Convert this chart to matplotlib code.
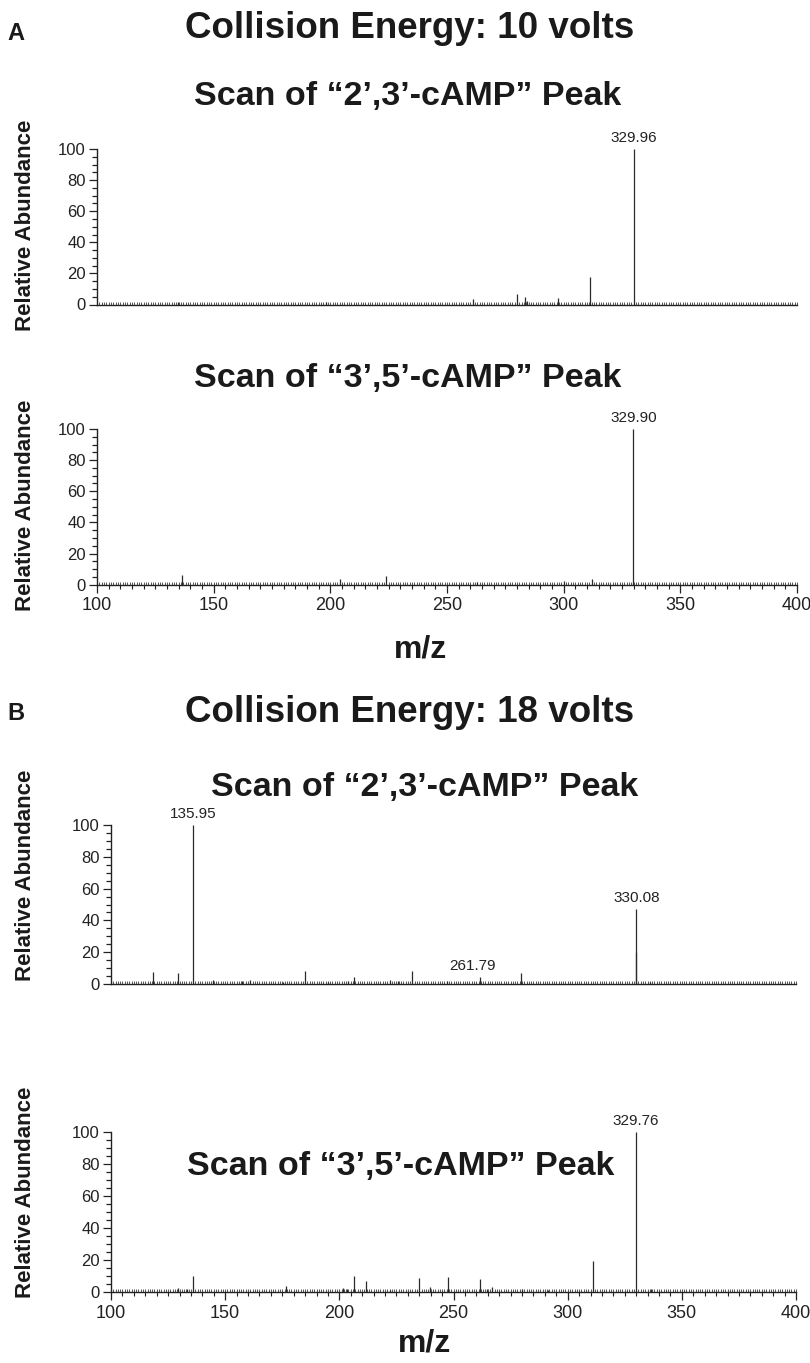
import matplotlib
matplotlib.use("Agg")
import matplotlib.pyplot as plt
from matplotlib import font_manager
from matplotlib.ticker import MultipleLocator, NullLocator, NullFormatter

# pick fonts that are installed
names = set(f.name for f in font_manager.fontManager.ttflist)
narrow = "Liberation Sans Narrow" if "Liberation Sans Narrow" in names else "Liberation Sans"
plt.rcParams['font.family'] = ['Liberation Sans', 'DejaVu Sans']

# spectra: m/z positions and relative abundance (%)
a1_mz = [134.7, 198.0, 261.3, 280.0, 283.3, 284.4, 297.7, 311.4, 329.96]
a1_ab = [1.5, 1.5, 3.7, 7.0, 4.7, 2.5, 4.3, 18.0, 100.0]

a2_mz = [136.3, 204.0, 223.8, 262.7, 300.3, 312.3, 329.90]
a2_ab = [6.2, 3.4, 5.4, 1.5, 2.3, 3.4, 100.0]

b1_mz = [118.5, 129.5, 135.95, 144.7, 157.2, 161.0, 175.2, 185.1, 194.9, 203.9,
         206.6, 222.2, 225.8, 231.7, 247.0, 261.79, 279.6, 329.8, 330.08, 336.0]
b1_ab = [7.4, 6.7, 100.0, 2.3, 2.0, 2.5, 1.0, 8.0, 1.5, 2.0,
         4.2, 2.5, 2.0, 8.0, 2.0, 4.2, 6.7, 20.0, 47.0, 1.5]

b2_mz = [129.5, 133.1, 135.7, 176.5, 201.8, 203.2, 206.3, 211.5, 222.2, 235.1,
         239.8, 247.7, 261.6, 264.5, 267.0, 279.9, 291.5, 311.3, 329.76, 336.5]
b2_ab = [2.3, 2.0, 10.3, 3.8, 2.5, 2.0, 10.3, 6.8, 1.5, 8.7,
         3.0, 9.2, 8.3, 2.0, 3.0, 2.0, 1.5, 19.2, 100.0, 2.0]

# labelled peaks: (m/z, abundance, text, x offset in points)
a1_labels = [(329.96, 100.0, "329.96", 0)]
a2_labels = [(329.90, 100.0, "329.90", 0)]
b1_labels = [(135.95, 100.0, "135.95", 0), (330.08, 47.0, "330.08", 0), (261.79, 4.2, "261.79", -6)]
b2_labels = [(329.76, 100.0, "329.76", 0)]

W, H = 810, 1363
fig = plt.figure(figsize=(W / 100, H / 100), dpi=100)


def px_axes(left, top, right, bottom):
    return fig.add_axes([left / W, 1 - bottom / H, (right - left) / W, (bottom - top) / H])


def spectrum(ax, mz, ab, labels, xticks):
    ax.vlines(mz, 0, ab, color='#2a2a2a', linewidth=0.9)
    ax.set_xlim(100, 400)
    ax.set_ylim(0, 100)
    for s in ['top', 'right']:
        ax.spines[s].set_visible(False)
    for s in ['left', 'bottom']:
        ax.spines[s].set_linewidth(1.0)
        ax.spines[s].set_color('#222222')
    ax.yaxis.set_major_locator(MultipleLocator(20))
    ax.yaxis.set_minor_locator(MultipleLocator(5))
    ax.tick_params(axis='y', which='major', length=6, width=0.9, labelsize=12, pad=2, colors='#222222')
    ax.tick_params(axis='y', which='minor', length=3.5, width=0.9, colors='#222222')
    for t in ax.get_yticklabels():
        t.set_family(narrow)
    if xticks:
        ax.xaxis.set_major_locator(MultipleLocator(50))
        ax.xaxis.set_minor_locator(MultipleLocator(5))
        ax.tick_params(axis='x', which='major', length=6, width=0.9, labelsize=13, pad=3, colors='#222222')
        ax.tick_params(axis='x', which='minor', length=3, width=0.8, colors='#222222')
    else:
        ax.xaxis.set_major_locator(NullLocator())
        ax.xaxis.set_minor_locator(NullLocator())
    # baseline noise hash
    sec = ax.secondary_xaxis(0)
    sec.spines['bottom'].set_visible(False)
    sec.xaxis.set_major_locator(NullLocator())
    sec.xaxis.set_minor_locator(MultipleLocator(1.0))
    sec.xaxis.set_minor_formatter(NullFormatter())
    sec.tick_params(axis='x', which='minor', direction='in', length=2.2, width=0.7, colors='#555555')
    for x, y, txt, dx in labels:
        ax.annotate(txt, (x, y), xytext=(dx, 3), textcoords='offset points',
                    ha='center', va='bottom', fontsize=11, family=narrow,
                    color='#222222', annotation_clip=False)


ax_a1 = px_axes(97, 149, 797, 304.5)
spectrum(ax_a1, a1_mz, a1_ab, a1_labels, False)
ax_a2 = px_axes(97, 429, 797, 584.7)
spectrum(ax_a2, a2_mz, a2_ab, a2_labels, True)
ax_b1 = px_axes(111, 825, 796, 984)
spectrum(ax_b1, b1_mz, b1_ab, b1_labels, False)
ax_b2 = px_axes(111, 1132, 796, 1292)
spectrum(ax_b2, b2_mz, b2_ab, b2_labels, True)


def ftext(x, y, s, **kw):
    fig.text(x / W, 1 - y / H, s, ha='center', va='center', color='#1a1a1a', **kw)


ftext(16, 34, "A", fontsize=17, fontweight='bold')
ftext(16, 713, "B", fontsize=17, fontweight='bold')
ftext(410, 28, "Collision Energy: 10 volts", fontsize=26.5, fontweight='bold')
ftext(410, 713, "Collision Energy: 18 volts", fontsize=26.5, fontweight='bold')
ftext(408, 96, "Scan of \u201c2\u2019,3\u2019-cAMP\u201d Peak", fontsize=24.5, fontweight='bold')
ftext(408, 379, "Scan of \u201c3\u2019,5\u2019-cAMP\u201d Peak", fontsize=24.5, fontweight='bold')
ftext(425, 788, "Scan of \u201c2\u2019,3\u2019-cAMP\u201d Peak", fontsize=24.5, fontweight='bold')
ftext(401, 1166, "Scan of \u201c3\u2019,5\u2019-cAMP\u201d Peak", fontsize=24.5, fontweight='bold')
ftext(420, 650, "m/z", fontsize=23, fontweight='bold')
ftext(425, 1343, "m/z", fontsize=23, fontweight='bold')
for yc in [225, 505, 875, 1192]:
    ftext(26, yc, "Relative Abundance", fontsize=16, fontweight='bold', rotation=90)

fig.savefig("out.png", dpi=100)
